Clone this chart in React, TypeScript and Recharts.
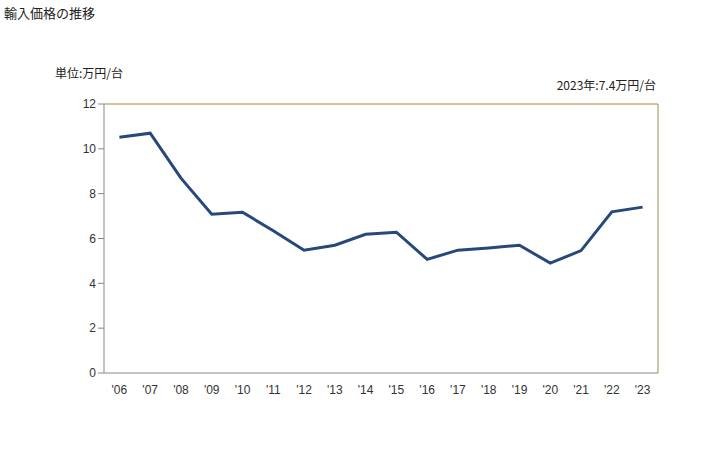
import React from 'react';
import { LineChart, Line, XAxis, YAxis } from 'recharts';

const years = ["'06","'07","'08","'09","'10","'11","'12","'13","'14","'15","'16","'17","'18","'19","'20","'21","'22","'23"];
const prices = [10.52, 10.7, 8.69, 7.08, 7.17, 6.35, 5.48, 5.7, 6.19, 6.28, 5.07, 5.48, 5.58, 5.7, 4.9, 5.46, 7.19, 7.4];
const yTicks = [0, 2, 4, 6, 8, 10, 12];

const data = years.map((y, i) => ({ year: y, value: prices[i] }));

const FONT = "Liberation Sans, Arial, sans-serif";
const JP = "'Noto Sans CJK JP', sans-serif";
const PAD = 15.4;

export default function App() {
  return (
    <div style={{ position: 'absolute', left: 0, top: 0, width: 728, height: 450, background: '#fff' }}>
      <div style={{ position: 'absolute', left: 4, top: 3, fontFamily: JP, fontSize: 13, color: '#222' }}>輸入価格の推移</div>
      <div style={{ position: 'absolute', left: 55, top: 64, fontFamily: JP, fontSize: 12, color: '#222' }}>単位:万円/台</div>
      <div style={{ position: 'absolute', right: 72, top: 76, fontFamily: JP, fontSize: 12, color: '#222' }}>2023年:7.4万円/台</div>
      <LineChart width={728} height={450} data={data} margin={{ top: 103, right: 69, bottom: 47, left: 54 }}>
        <XAxis dataKey="year" axisLine={{ stroke: '#888' }} tickLine={false} padding={{ left: PAD, right: PAD }}
          tick={{ fontSize: 12, fill: '#333', fontFamily: FONT }} tickMargin={6} height={30} interval={0} />
        <XAxis xAxisId="top" orientation="top" dataKey="year" axisLine={{ stroke: '#9c8c4c' }} tick={false} tickLine={false} height={1} padding={{ left: PAD, right: PAD }} />
        <YAxis domain={[0, 12]} ticks={yTicks} axisLine={{ stroke: '#888' }} tickLine={{ stroke: '#888' }} tickSize={6}
          tick={{ fontSize: 12, fill: '#333', fontFamily: FONT }} width={50} interval={0} />
        <YAxis yAxisId="right" orientation="right" domain={[0, 12]} axisLine={{ stroke: '#9c8c4c' }} tick={false} tickLine={false} width={1} />
        <Line type="linear" dataKey="value" stroke="#27497a" strokeWidth={3} dot={false} isAnimationActive={false} />
      </LineChart>
    </div>
  );
}
